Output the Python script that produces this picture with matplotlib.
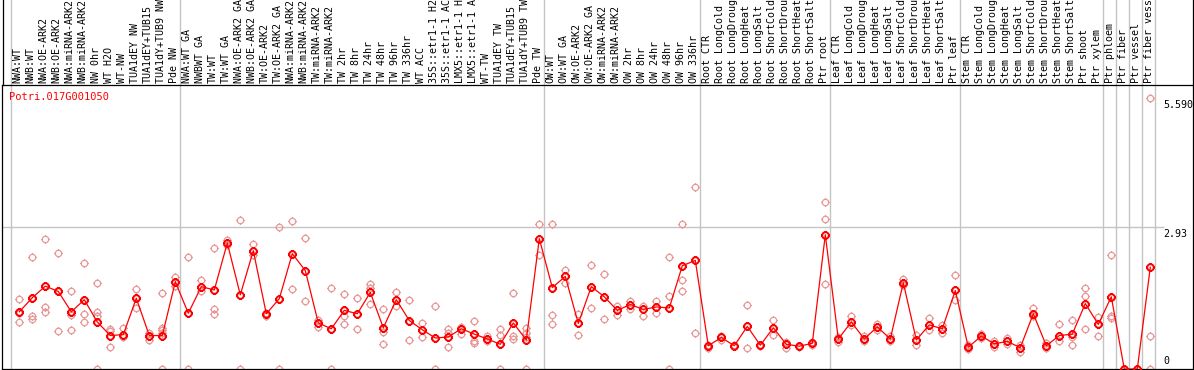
import matplotlib
matplotlib.use("Agg")
import matplotlib.pyplot as plt
from matplotlib.path import Path
from matplotlib.transforms import blended_transform_factory, offset_copy
import numpy as np

title = "Potri.017G001050"

labels = [
    "NWA:WT", "NWB:WT", "NWA:OE-ARK2", "NWB:OE-ARK2", "NWA:miRNA-ARK2", "NWB:miRNA-ARK2",
    "NW 0hr", "WT H2O", "WT-NW", "TUA1dEY NW", "TUA1dEY+TUB15", "TUA1dY+TUB9 NW", "Pde NW",
    "NWA:WT GA", "NWBWT GA", "TW:WT", "TW:WT GA", "NWA:OE-ARK2 GA", "NWB:OE-ARK2 GA",
    "TW:OE-ARK2", "TW:OE-ARK2 GA", "NWA:miRNA-ARK2", "NWB:miRNA-ARK2", "TW:miRNA-ARK2",
    "TW:miRNA-ARK2", "TW 2hr", "TW 8hr", "TW 24hr", "TW 48hr", "TW 96hr", "TW 336hr",
    "WT ACC", "35S::etr1-1 H2O", "35S::etr1-1 ACC", "LMX5::etr1-1 H2O", "LMX5::etr1-1 ACC",
    "WT-TW", "TUA1dEY TW", "TUA1dEY+TUB15", "TUA1dY+TUB9 TW", "Pde TW",
    "OW:WT", "OW:WT GA", "OW:OE-ARK2", "OW:OE-ARK2 GA", "OW:miRNA-ARK2", "OW:miRNA-ARK2",
    "OW 2hr", "OW 8hr", "OW 24hr", "OW 48hr", "OW 96hr", "OW 336hr",
    "Root CTR", "Root LongCold", "Root LongDrought", "Root LongHeat", "Root LongSalt",
    "Root ShortCold", "Root ShortDrought", "Root ShortHeat", "Root ShortSalt", "Ptr root",
    "Leaf CTR", "Leaf LongCold", "Leaf LongDrought", "Leaf LongHeat", "Leaf LongSalt",
    "Leaf ShortCold", "Leaf ShortDrought", "Leaf ShortHeat", "Leaf ShortSalt", "Ptr leaf",
    "Stem CTR", "Stem LongCold", "Stem LongDrought", "Stem LongHeat", "Stem LongSalt",
    "Stem ShortCold", "Stem ShortDrought", "Stem ShortHeat", "Stem ShortSalt", "Ptr shoot",
    "Ptr xylem", "Ptr phloem", "Ptr fiber", "Ptr vessel", "Ptr fiber vessel",
]

means = [
    1.18, 1.47, 1.71, 1.60, 1.18, 1.43, 0.97, 0.69, 0.71, 1.46, 0.69, 0.69, 1.80,
    1.15, 1.70, 1.63, 2.60, 1.53, 2.44, 1.14, 1.45, 2.38, 2.03, 0.95, 0.83, 1.21,
    1.14, 1.58, 0.85, 1.43, 1.00, 0.81, 0.64, 0.66, 0.83, 0.72, 0.62, 0.51, 0.95,
    0.60, 2.69,
    1.68, 1.91, 0.94, 1.70, 1.49, 1.21, 1.33, 1.23, 1.28, 1.26, 2.13, 2.24,
    0.48, 0.65, 0.48, 0.88, 0.49, 0.85, 0.51, 0.47, 0.53, 2.77,
    0.62, 0.97, 0.62, 0.87, 0.62, 1.78, 0.60, 0.91, 0.83, 1.62,
    0.45, 0.68, 0.52, 0.57, 0.44, 1.14, 0.48, 0.69, 0.72, 1.35,
    0.92, 1.49, 0.0, 0.0, 2.10,
]

replicates = [
    [1.44, 1.16, 0.97], [2.31, 1.10, 1.03], [2.68, 1.28, 1.18], [2.40, 1.61, 0.79],
    [1.60, 1.11, 0.81], [2.19, 1.14, 0.98], [1.77, 1.17, 1.09, 0.0], [0.83, 0.78, 0.46],
    [0.84, 0.66], [1.65, 1.25], [0.74, 0.60], [1.56, 0.85, 0.80, 0.75, 0.0], [1.90, 1.71],
    [2.31, 0.0], [1.83, 1.60], [2.50, 1.23, 1.14], [2.67, 2.55], [3.08, 0.0],
    [2.58, 2.36], [1.16, 1.10], [2.92, 0.0], [3.06, 1.66], [2.71, 1.40], [1.02, 0.87],
    [1.68, 0.0], [1.54, 1.10, 0.93], [1.47, 0.83], [1.75, 1.68, 1.35], [1.23, 0.76, 0.51],
    [1.58, 1.31], [1.42, 0.60], [0.94, 0.67], [1.30, 0.0], [0.83, 0.74, 0.45],
    [0.87, 0.72], [1.00, 0.57, 0.53], [0.69, 0.57], [0.83, 0.71, 0.0],
    [1.56, 0.69, 0.62], [0.85, 0.74, 0.67, 0.0], [3.00, 2.35],
    [3.00, 1.12, 0.93], [2.04, 1.77], [1.14, 0.70], [2.15, 1.26], [1.95, 1.04],
    [1.30, 1.11], [1.41, 1.23], [1.31, 1.09], [1.40, 1.16], [2.31, 1.51, 0.0],
    [2.99, 1.83, 1.60], [3.76, 0.74],
    [0.43, 0.50], [0.69, 0.60], [0.47, 0.49], [1.33, 0.44], [0.50, 0.48],
    [1.01, 0.70], [0.44, 0.56], [0.46, 0.48], [0.50, 0.56], [3.45, 3.10, 1.75],
    [0.67, 0.56], [1.09, 0.90], [0.68, 0.58], [0.93, 0.80], [0.68, 0.57],
    [1.86, 1.74], [0.70, 0.50], [1.05, 0.80], [0.91, 0.75], [1.94, 1.42],
    [0.50, 0.42], [0.72, 0.64], [0.58, 0.46], [0.63, 0.52], [0.49, 0.36],
    [1.25, 1.10], [0.54, 0.44], [0.93, 0.57], [1.02, 0.50, 0.66], [1.68, 1.51, 0.83],
    [1.07, 0.69], [2.35, 1.10, 1.05], [0.0], [0.0], [5.59, 0.69, 0.0],
]

group_starts = [0, 13, 41, 53, 63, 73, 84, 85, 86, 87, 88]
tick_values = [5.590, 2.93, 0]
tick_texts = ["5.590", "2.93", "0"]
ymax = 5.86

# ---------------------------------------------------------------- figure
W, H = 1194, 370
fig = plt.figure(figsize=(W / 100, H / 100), dpi=100)
left_px, right_px, top_px, bot_px = 2, 1193, 85, 369
ax = fig.add_axes([left_px / W, (H - bot_px) / H, (right_px - left_px) / W,
                   (bot_px - top_px) / H])
x0_px, step_px = 19.3, 13.0
ax.set_xlim((left_px - x0_px) / step_px, (right_px - x0_px) / step_px)
ax.set_ylim(0, ymax)
ax.set_xticks([])
ax.set_yticks([])
for s in ax.spines.values():
    s.set_color("black")
    s.set_linewidth(0.9)

# custom marker: circle with four small ticks
circ = Path.unit_circle()
tick_paths = []
for dx, dy in [(1, 0), (-1, 0), (0, 1), (0, -1)]:
    tick_paths.append(Path([(dx * 1.0, dy * 1.0), (dx * 1.35, dy * 1.35)],
                           [Path.MOVETO, Path.LINETO]))
mk = Path.make_compound_path(circ, *tick_paths)

mono = "DejaVu Sans Mono"
gray = "#c4c4c4"
red = "#ff0000"
pink = "#e89898"

# grid lines (vertical group separators spanning label area)
ext = bot_px / (bot_px - top_px)
for g in group_starts:
    ax.axvline(g - 8.3 / step_px, ymin=0, ymax=ext, color=gray, lw=1.0,
               clip_on=False, zorder=1)
ax.axhline(ymax / 2, xmin=0, xmax=(1163 - left_px) / (right_px - left_px),
           color=gray, lw=1.0, zorder=1)

# outer vertical black borders through label area
for xp in (left_px + 0.5, right_px - 0.5):
    fig.add_artist(plt.Line2D([xp / W, xp / W], [(H - top_px) / H, 1.0],
                              color="black", lw=0.9))

x = np.arange(len(means))
# replicates
for i, reps in enumerate(replicates):
    ax.plot([i] * len(reps), reps, linestyle="none", marker=mk, markersize=6.2,
            markerfacecolor="none", markeredgecolor=pink, markeredgewidth=0.9,
            zorder=2)
# mean line and markers
ax.plot(x, means, color=red, lw=0.9, zorder=3)
ax.plot(x, means, linestyle="none", marker=mk, markersize=6.4,
        markerfacecolor="none", markeredgecolor=red, markeredgewidth=1.4,
        zorder=4)

# column labels
trans = blended_transform_factory(ax.transData, ax.transAxes)
trans = offset_copy(trans, fig=fig, x=-1.5, y=2, units="dots")
for i, lab in enumerate(labels):
    ax.text(i, 1.0, lab, transform=trans, rotation=90, ha="center", va="bottom",
            fontsize=7.2, family=mono, color="black", clip_on=False)

# right-hand value labels
for v, t in zip(tick_values, tick_texts):
    if v == 0:
        ax.text(88, v, t, ha="left", va="bottom", fontsize=7.2, family=mono,
                transform=offset_copy(ax.transData, fig=fig, x=0, y=3, units="dots"))
    else:
        ax.text(88, v, t, ha="left", va="top", fontsize=7.2, family=mono,
                transform=offset_copy(ax.transData, fig=fig, x=0, y=-2, units="dots"))

fig.text(9 / W, 1 - 97 / H, title, color=red, fontsize=7.5, family=mono,
         ha="left", va="center")

fig.savefig("out.png", dpi=100)
